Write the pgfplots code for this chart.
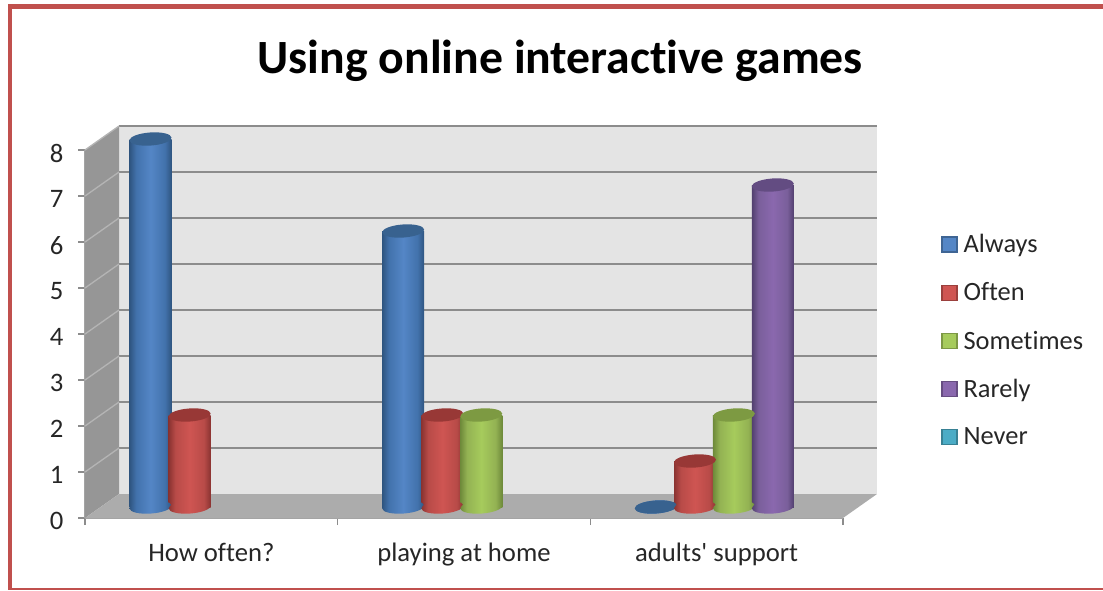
\documentclass[border=0pt]{standalone}
\usepackage{pgfplots}
\usepackage{pgfplotstable}
\pgfplotsset{compat=1.18}
\usepackage{fontspec}
\setmainfont[Ligatures={NoCommon,TeXOff}]{Carlito}
\definecolor{frameRed}{HTML}{C0504D}
\definecolor{wallC}{HTML}{E4E4E4}
\definecolor{sideC}{HTML}{969696}
\definecolor{floorC}{HTML}{ACACAC}
\definecolor{gridC}{HTML}{8C8C8C}
\definecolor{txtC}{HTML}{262626}
\definecolor{blueD}{HTML}{2F5580}\definecolor{blueM}{HTML}{4272AC}\definecolor{blueL}{HTML}{5486C6}\definecolor{blueT}{HTML}{38628F}
\definecolor{redD}{HTML}{8A3331}\definecolor{redM}{HTML}{B84B48}\definecolor{redL}{HTML}{CF5552}\definecolor{redT}{HTML}{983836}
\definecolor{greenD}{HTML}{6E8A3A}\definecolor{greenM}{HTML}{93B253}\definecolor{greenL}{HTML}{A6CB5C}\definecolor{greenT}{HTML}{7D9A42}
\definecolor{purpD}{HTML}{52406F}\definecolor{purpM}{HTML}{7A5F9B}\definecolor{purpL}{HTML}{8A68AE}\definecolor{purpT}{HTML}{634C82}
\definecolor{tealL}{HTML}{4BACC6}\definecolor{tealD}{HTML}{357D91}
\pgfdeclarehorizontalshading{blueS}{100bp}{color(0bp)=(blueD); color(25bp)=(blueD); color(33bp)=(blueM); color(50bp)=(blueL); color(67bp)=(blueM); color(75bp)=(blueD); color(100bp)=(blueD)}
\pgfdeclarehorizontalshading{redS}{100bp}{color(0bp)=(redD); color(25bp)=(redD); color(33bp)=(redM); color(50bp)=(redL); color(67bp)=(redM); color(75bp)=(redD); color(100bp)=(redD)}
\pgfdeclarehorizontalshading{greenS}{100bp}{color(0bp)=(greenD); color(25bp)=(greenD); color(33bp)=(greenM); color(50bp)=(greenL); color(67bp)=(greenM); color(75bp)=(greenD); color(100bp)=(greenD)}
\pgfdeclarehorizontalshading{purpS}{100bp}{color(0bp)=(purpD); color(25bp)=(purpD); color(33bp)=(purpM); color(50bp)=(purpL); color(67bp)=(purpM); color(75bp)=(purpD); color(100bp)=(purpD)}
\pgfdeclareplotmark{capEllipse}{%
  \pgfpathellipse{\pgfpointorigin}{\pgfqpoint{15.75pt}{1.1pt}}{\pgfqpoint{-0.3pt}{4.9pt}}%
  \pgfusepathqfill}
\newcommand{\cylbotmark}[1]{\pgfdeclareplotmark{bot#1}{%
  \pgfpathellipse{\pgfpointorigin}{\pgfqpoint{15.75pt}{1.1pt}}{\pgfqpoint{-0.3pt}{4.9pt}}%
  \pgfshadepath{#1S}{0}\pgfusepath{discard}}}
\cylbotmark{blue}\cylbotmark{red}\cylbotmark{green}\cylbotmark{purp}
\pgfplotsset{
  cylbody/.style={ybar,bar shift=0pt,bar width=31.5pt,draw=none,forget plot,
    restrict y to domain=0.01:100,mark=none,shading=#1S},
  cylbot/.style={only marks,forget plot,mark=bot#1,mark options={draw=none}},
  cyltop/.style={only marks,forget plot,mark=capEllipse,mark options={fill=#1T,draw=none}},
  swatch/.style={legend image code/.code={
    \draw[fill=#1,draw=#1!75!black,line width=1.1pt] (0pt,-5.6pt) rectangle (11.2pt,5.6pt);}},
}
\pgfplotstableread{
x v
-0.309 8
0.691 6
1.691 0
}\always
\pgfplotstableread{
x v
-0.154 2
0.846 2
1.846 1
}\often
\pgfplotstableread{
x v
1 2
2 2
}\sometimes
\pgfplotstableread{
x v
2.154 7
}\rarely
% one body per bar, so that each bar gets its own shading
\newcommand{\cylbody}[3]{\addplot[cylbody=#2,restrict x to domain=#3] table[x=x,y=v]{#1};}
\newcommand{\cylends}[2]{\addplot[cylbot=#2] table[x=x,y expr=0]{#1};}
\newcommand{\cylcaps}[2]{\addplot[cyltop=#2] table[x=x,y=v]{#1};}
\begin{document}
\begin{tikzpicture}
\useasboundingbox (0,0) rectangle (827.25pt,442.5pt);
% frame
\begin{scope}[x=0.75pt,y=0.75pt]
\fill[frameRed] (8,581) rectangle (1103,586);
\fill[frameRed] (7.5,0) rectangle (12.3,586);
\fill[frameRed] (8,0.5) rectangle (1103,2.5);
\end{scope}
% back wall
\begin{axis}[at={(89.25pt,72pt)},anchor=south west,scale only axis,width=568.5pt,height=276pt,
  xmin=0,xmax=3,ymin=0,ymax=8,xtick=\empty,ytick={1,...,8},yticklabels={},
  major tick length=0pt,axis line style={draw=none},ymajorgrids,
  grid style={gridC,line width=1.5pt},
  axis background/.style={fill=wallC}]
\end{axis}
% front frame with ticks and labels
\begin{axis}[at={(63.75pt,54pt)},anchor=south west,scale only axis,width=568.5pt,height=276pt,
  xmin=0,xmax=3,ymin=0,ymax=8,clip=false,
  axis x line*=bottom,axis y line*=left,axis line style={gridC!80,line width=0.8pt},
  xtick={0,1,2,3},x tick label as interval=true,
  xticklabels={How often?,playing at home,adults' support},
  ytick={0,...,8},
  tick align=outside,major tick length=5.25pt,tick style={gridC,line width=0.9pt},
  /pgf/number format/assume math mode=true,
  tick label style={text=txtC},
  xticklabel style={font=\fontsize{20}{24}\selectfont,yshift=-10pt},
  yticklabel style={font=\fontsize{20}{24}\selectfont,xshift=-7.5pt,yshift=-2.5pt},
  title={Using online interactive games},
  title style={at={(0.627,1.22)},anchor=center,font=\bfseries\fontsize{35.8}{42}\selectfont,text=black}]
\fill[sideC] (axis cs:0,0)--(axis cs:0.1347,0.5217)--(axis cs:0.1347,8.5217)--(axis cs:0,8)--cycle;
\fill[floorC] (axis cs:0,0)--(axis cs:0.1347,0.5217)--(axis cs:3.1347,0.5217)--(axis cs:3,0)--cycle;
\pgfplotsinvokeforeach{1,...,8}{\draw[gridC!55!wallC,line width=1pt] (axis cs:0,#1)--(axis cs:0.1347,#1+0.5217);}
\end{axis}
% bars
\begin{axis}[at={(76.6875pt,62.25pt)},anchor=south west,scale only axis,width=568.5pt,height=276pt,
  xmin=-0.5,xmax=2.5,ymin=0,ymax=8,clip=false,hide axis,
  legend cell align=left,
  legend style={draw=none,fill=none,at={(1.0,0.5)},anchor=west,xshift=57.5pt,yshift=-13pt,
    font=\fontsize{19.8}{24}\selectfont,text=txtC,row sep=17pt,
    /tikz/every odd column/.append style={column sep=2.5pt}}]
\cylends{\always}{blue}
\cylbody{\always}{blue}{-0.5:0.5}
\cylbody{\always}{blue}{0.5:1.5}
\cylcaps{\always}{blue}
\cylends{\often}{red}
\cylbody{\often}{red}{-0.5:0.5}
\cylbody{\often}{red}{0.5:1.5}
\cylbody{\often}{red}{1.5:2.5}
\cylcaps{\often}{red}
\cylends{\sometimes}{green}
\cylbody{\sometimes}{green}{0.5:1.5}
\cylbody{\sometimes}{green}{1.5:2.5}
\cylcaps{\sometimes}{green}
\cylends{\rarely}{purp}
\cylbody{\rarely}{purp}{1.5:2.5}
\cylcaps{\rarely}{purp}
\addlegendimage{swatch=blueL}\addlegendentry{Always}
\addlegendimage{swatch=redL}\addlegendentry{Often}
\addlegendimage{swatch=greenL}\addlegendentry{Sometimes}
\addlegendimage{swatch=purpL}\addlegendentry{Rarely}
\addlegendimage{swatch=tealL}\addlegendentry{Never}
\end{axis}
\end{tikzpicture}
\end{document}
